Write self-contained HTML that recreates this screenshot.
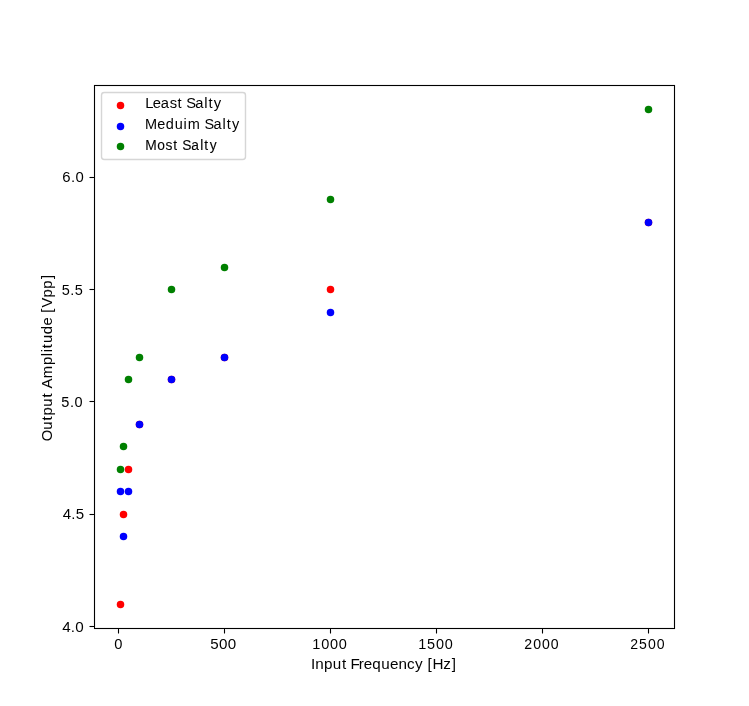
<!DOCTYPE html>
<html><head><meta charset="utf-8"><title>Output Amplitude vs Input Frequency</title>
<style>html,body{margin:0;padding:0;background:#fff;width:749px;height:706px;overflow:hidden}</style>
</head><body>
<svg width="749" height="706" viewBox="0 0 749 706" style="display:block">
<rect x="0" y="0" width="749" height="706" fill="#fff"/>
<circle cx="120.5" cy="604.5" r="3.75" fill="#ff0000"/>
<circle cx="123.5" cy="514.5" r="3.75" fill="#ff0000"/>
<circle cx="128.5" cy="469.5" r="3.75" fill="#ff0000"/>
<circle cx="139.5" cy="424.5" r="3.75" fill="#ff0000"/>
<circle cx="171.5" cy="379.5" r="3.75" fill="#ff0000"/>
<circle cx="224.5" cy="357.5" r="3.75" fill="#ff0000"/>
<circle cx="330.5" cy="289.5" r="3.75" fill="#ff0000"/>
<circle cx="648.5" cy="222.5" r="3.75" fill="#ff0000"/>
<circle cx="120.5" cy="491.5" r="3.75" fill="#0000ff"/>
<circle cx="123.5" cy="536.5" r="3.75" fill="#0000ff"/>
<circle cx="128.5" cy="491.5" r="3.75" fill="#0000ff"/>
<circle cx="139.5" cy="424.5" r="3.75" fill="#0000ff"/>
<circle cx="171.5" cy="379.5" r="3.75" fill="#0000ff"/>
<circle cx="224.5" cy="357.5" r="3.75" fill="#0000ff"/>
<circle cx="330.5" cy="312.5" r="3.75" fill="#0000ff"/>
<circle cx="648.5" cy="222.5" r="3.75" fill="#0000ff"/>
<circle cx="120.5" cy="469.5" r="3.75" fill="#008000"/>
<circle cx="123.5" cy="446.5" r="3.75" fill="#008000"/>
<circle cx="128.5" cy="379.5" r="3.75" fill="#008000"/>
<circle cx="139.5" cy="357.5" r="3.75" fill="#008000"/>
<circle cx="171.5" cy="289.5" r="3.75" fill="#008000"/>
<circle cx="224.5" cy="267.5" r="3.75" fill="#008000"/>
<circle cx="330.5" cy="199.5" r="3.75" fill="#008000"/>
<circle cx="648.5" cy="109.5" r="3.75" fill="#008000"/>
<rect x="94" y="84" width="581" height="1" fill="#f1f1f1"/>
<rect x="94" y="86" width="581" height="1" fill="#f1f1f1"/>
<rect x="94" y="627" width="581" height="1" fill="#f1f1f1"/>
<rect x="94" y="629" width="581" height="1" fill="#f1f1f1"/>
<rect x="93" y="85" width="1" height="544" fill="#f1f1f1"/>
<rect x="95" y="85" width="1" height="544" fill="#f1f1f1"/>
<rect x="673" y="85" width="1" height="544" fill="#f1f1f1"/>
<rect x="675" y="85" width="1" height="544" fill="#f1f1f1"/>
<rect x="94" y="85" width="581" height="1" fill="#000"/>
<rect x="94" y="628" width="581" height="1" fill="#000"/>
<rect x="94" y="85" width="1" height="544" fill="#000"/>
<rect x="674" y="85" width="1" height="544" fill="#000"/>
<rect x="117" y="629" width="1" height="4" fill="#f1f1f1"/>
<rect x="119" y="629" width="1" height="4" fill="#f1f1f1"/>
<rect x="118" y="628" width="1" height="5" fill="#000"/>
<rect x="118" y="633" width="1" height="1" fill="#7f7f7f"/>
<rect x="223" y="629" width="1" height="4" fill="#f1f1f1"/>
<rect x="225" y="629" width="1" height="4" fill="#f1f1f1"/>
<rect x="224" y="628" width="1" height="5" fill="#000"/>
<rect x="224" y="633" width="1" height="1" fill="#7f7f7f"/>
<rect x="329" y="629" width="1" height="4" fill="#f1f1f1"/>
<rect x="331" y="629" width="1" height="4" fill="#f1f1f1"/>
<rect x="330" y="628" width="1" height="5" fill="#000"/>
<rect x="330" y="633" width="1" height="1" fill="#7f7f7f"/>
<rect x="435" y="629" width="1" height="4" fill="#f1f1f1"/>
<rect x="437" y="629" width="1" height="4" fill="#f1f1f1"/>
<rect x="436" y="628" width="1" height="5" fill="#000"/>
<rect x="436" y="633" width="1" height="1" fill="#7f7f7f"/>
<rect x="541" y="629" width="1" height="4" fill="#f1f1f1"/>
<rect x="543" y="629" width="1" height="4" fill="#f1f1f1"/>
<rect x="542" y="628" width="1" height="5" fill="#000"/>
<rect x="542" y="633" width="1" height="1" fill="#7f7f7f"/>
<rect x="647" y="629" width="1" height="4" fill="#f1f1f1"/>
<rect x="649" y="629" width="1" height="4" fill="#f1f1f1"/>
<rect x="648" y="628" width="1" height="5" fill="#000"/>
<rect x="648" y="633" width="1" height="1" fill="#7f7f7f"/>
<rect x="90" y="625" width="4" height="1" fill="#f1f1f1"/>
<rect x="90" y="627" width="4" height="1" fill="#f1f1f1"/>
<rect x="90" y="626" width="4" height="1" fill="#000"/>
<rect x="89" y="626" width="1" height="1" fill="#7f7f7f"/>
<rect x="90" y="513" width="4" height="1" fill="#f1f1f1"/>
<rect x="90" y="515" width="4" height="1" fill="#f1f1f1"/>
<rect x="90" y="514" width="4" height="1" fill="#000"/>
<rect x="89" y="514" width="1" height="1" fill="#7f7f7f"/>
<rect x="90" y="400" width="4" height="1" fill="#f1f1f1"/>
<rect x="90" y="402" width="4" height="1" fill="#f1f1f1"/>
<rect x="90" y="401" width="4" height="1" fill="#000"/>
<rect x="89" y="401" width="1" height="1" fill="#7f7f7f"/>
<rect x="90" y="288" width="4" height="1" fill="#f1f1f1"/>
<rect x="90" y="290" width="4" height="1" fill="#f1f1f1"/>
<rect x="90" y="289" width="4" height="1" fill="#000"/>
<rect x="89" y="289" width="1" height="1" fill="#7f7f7f"/>
<rect x="90" y="176" width="4" height="1" fill="#f1f1f1"/>
<rect x="90" y="178" width="4" height="1" fill="#f1f1f1"/>
<rect x="90" y="177" width="4" height="1" fill="#000"/>
<rect x="89" y="177" width="1" height="1" fill="#7f7f7f"/>
<path d="M 104.28 159.5 L 242.72 159.5 Q 245.5 159.5 245.5 156.72 L 245.5 95.28 Q 245.5 92.5 242.72 92.5 L 104.28 92.5 Q 101.5 92.5 101.5 95.28 L 101.5 156.72 Q 101.5 159.5 104.28 159.5 Z" fill="#fff" stroke="#ccc" stroke-width="1.389" opacity="0.8"/>
<circle cx="120.5" cy="105.5" r="3.75" fill="#ff0000"/>
<circle cx="120.5" cy="126.5" r="3.75" fill="#0000ff"/>
<circle cx="120.5" cy="146.5" r="3.75" fill="#008000"/>
<g opacity="0.999" font-family='"Liberation Sans", sans-serif' fill="#000">
<text transform="translate(118.50 648.62) translate(-4.668 0.000) scale(1.0600 1)" x="0.31" y="0" font-size="13.88">0</text>
<text transform="translate(224.50 648.62) translate(-14.496 0.000) scale(1.0800 1)" x="0.14 8.36 16.54" y="0" font-size="14.03">500</text>
<text transform="translate(330.50 648.62) translate(-18.535 0.000) scale(1.0600 1)" x="0.28 8.68 17.00 25.33" y="0" font-size="13.72">1000</text>
<text transform="translate(436.50 648.62) translate(-18.660 0.000) scale(1.0300 1)" x="0.32 8.90 17.53 26.10" y="0" font-size="14.03">1500</text>
<text transform="translate(542.50 648.62) translate(-18.660 0.000) scale(1.0100 1)" x="0.31 9.23 17.97 26.71" y="0" font-size="13.95" stroke="#000" stroke-width="0.05">2000</text>
<text transform="translate(648.50 648.62) translate(-18.660 0.000) scale(1.0100 1)" x="0.31 9.18 17.97 26.71" y="0" font-size="13.95">2500</text>
<text transform="translate(83.90 631.37) translate(-21.950 0.250) scale(1.0800 1)" x="0.17 8.25 12.42" y="0" font-size="14.10">4.0</text>
<text transform="translate(83.90 519.05) translate(-21.450 -0.500) scale(1.0800 1)" x="0.21 8.27 12.42" y="0" font-size="13.95">4.5</text>
<text transform="translate(83.90 406.73) translate(-22.950 -0.125) scale(1.0600 1)" x="0.30 8.50 12.84" y="0" font-size="13.72" stroke="#000" stroke-width="0.05">5.0</text>
<text transform="translate(83.90 294.42) translate(-22.575 0.125) scale(1.0600 1)" x="0.30 8.50 12.79" y="0" font-size="13.72">5.5</text>
<text transform="translate(83.90 182.10) translate(-21.950 -0.500) scale(1.0500 1)" x="0.26 8.53 12.87" y="0" font-size="14.18">6.0</text>
<text transform="translate(383.86 667.61) translate(-72.895 1.000) scale(1.0800 1)" x="-0.06 3.97 12.17 20.21 28.75 33.35 36.70 44.34 48.93 56.85 65.05 73.13 81.15 88.96 96.45 103.86 107.89 112.61 122.45 130.35" y="0" font-size="14.10">Input Frequency [Hz]</text>
<text transform="translate(53.37 356.53) rotate(-90) translate(-84.404 -1.750) scale(1.0400 1)" x="-0.28 10.74 19.56 24.54 32.90 41.71 46.49 50.40 60.32 73.06 81.45 85.16 89.19 94.06 102.47 110.92 119.09 123.29 128.21 137.88 146.35 155.61" y="0" font-size="14.25" stroke="#000" stroke-width="0.05">Output Amplitude [Vpp]</text>
<text transform="translate(145.01 107.77) translate(0.125 -0.250) scale(1.0600 1)" x="0.04 7.23 14.75 23.15 30.55 35.23 38.82 47.19 55.84 59.81 64.73" y="0" font-size="13.95">Least Salty</text>
<text transform="translate(145.01 128.16) translate(0.000 0.500) scale(1.0400 1)" x="-0.05 11.77 20.00 28.51 36.96 41.08 53.53 57.24 65.77 74.54 78.58 83.63" y="0" font-size="13.95">Meduim Salty</text>
<text transform="translate(145.01 148.55) translate(-0.125 1.000) scale(1.0000 1)" x="0.25 12.39 20.72 28.46 33.42 37.42 46.26 55.25 59.48 64.80" y="0" font-size="13.80" stroke="#000" stroke-width="0.10">Most Salty</text>
</g>
</svg>
</body></html>
